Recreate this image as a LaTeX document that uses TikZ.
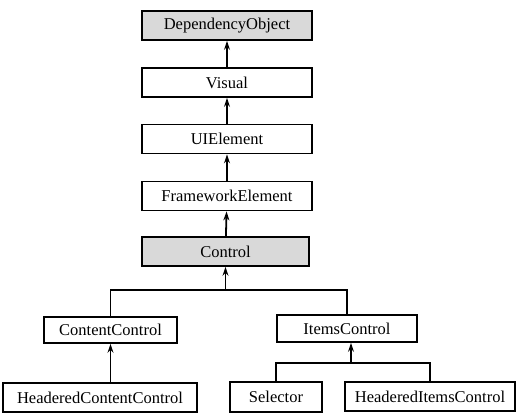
\documentclass[tikz,border=0pt]{standalone}
\usepackage{fontspec}
\setmainfont{Liberation Serif}
\usetikzlibrary{arrows.meta}
\definecolor{basegray}{HTML}{D9D9D9}

\begin{document}
\begin{tikzpicture}[
      x=1pt, y=-1pt,
      >={Stealth[length=9pt,width=6pt]},
      line width=1.8pt,
      cls/.style={
        draw,
        fill=white,
        minimum height=29pt,
        inner sep=0pt,
        font=\fontsize{16.5}{18}\selectfont,
      },
      base/.style={cls, fill=basegray},
      ]
      \useasboundingbox (0,0) rectangle (528,417);
      \node[base,minimum width=170pt] (depobj) at (227,25.5) {DependencyObject};
      \node[cls,minimum width=170pt] (visual) at (227,82.5) {Visual};
      \node[cls,minimum width=170pt] (uielem) at (227,139) {UIElement};
      \node[cls,minimum width=170pt] (fwelem) at (227,196) {FrameworkElement};
      \node[base,minimum width=167pt] (control) at (225.5,251.5) {Control};
      \node[cls,minimum width=133pt,minimum height=26pt] (content) at (110.5,330) {ContentControl};
      \node[cls,minimum width=140pt,minimum height=27pt] (items) at (347,328.5) {ItemsControl};
      \node[cls,minimum width=194pt] (hdcontent) at (100,397.5) {HeaderedContentControl};
      \node[cls,minimum width=92pt,minimum height=30pt] (selector) at (276,397) {Selector};
      \node[cls,minimum width=170pt] (hditems) at (430,396.5) {HeaderedItemsControl};
      \coordinate (busA) at (225.5,290);
      \coordinate (busB) at (351,363);
      \draw[->] (visual) edge (depobj);
      \draw[->] (uielem) edge (visual);
      \draw[->] (fwelem) edge (uielem);
      \draw[->] (control) edge (fwelem);
      \draw[->] (busA) -- (control);
      \draw (content.north) |- (busA) -| (items.north);
      \draw[->] (hdcontent.north -| content.south) -- (content.south);
      \draw[->] (busB) -- (busB |- items.south);
      \draw (selector.north) |- (busB) -| (hditems.north);
    \end{tikzpicture}
\end{document}
